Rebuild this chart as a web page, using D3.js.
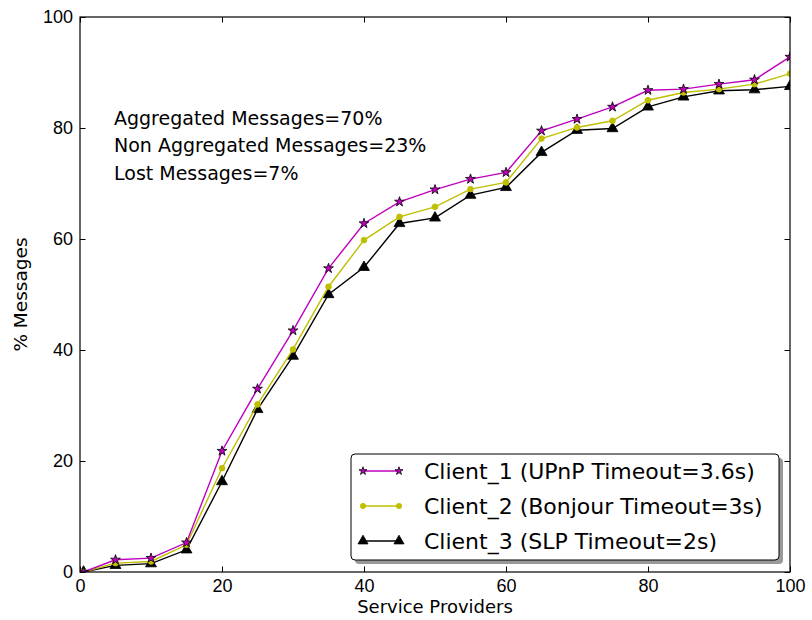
<!DOCTYPE html>
<html lang="en">
<head>
<meta charset="UTF-8">
<title>% Messages vs Service Providers</title>
<script src="https://d3js.org/d3.v7.min.js"></script>
<style>
    body { margin: 0; background: #fff; }
    svg { display: block; font-family: "DejaVu Sans", sans-serif; }
    .tick text { font-size: 18px; fill: #000; }
</style>
</head>
<body>
<script>
// providers on the x axis
const providers = [0.5, 5, 10, 15, 20, 25, 30, 35, 40, 45, 50, 55, 60, 65, 70, 75, 80, 85, 90, 95, 100];
const client1 = [0, 2.2, 2.5, 5.3, 21.8, 33, 43.5, 54.7, 62.8, 66.7, 68.9, 70.8, 72, 79.5, 81.6, 83.8, 86.8, 87, 87.9, 88.7, 92.8];
const client2 = [0, 1.6, 1.9, 4.9, 18.7, 30.2, 40.1, 51.4, 59.8, 64, 65.8, 69, 70.2, 78.1, 80.1, 81.3, 85, 86.4, 87, 87.9, 89.8];
const client3 = [0, 1.2, 1.5, 4, 16.3, 29.3, 38.9, 50, 54.9, 62.8, 63.8, 67.9, 69.3, 75.6, 79.6, 79.9, 83.8, 85.6, 86.7, 86.9, 87.5];
const seriesNames = ["Client_1 (UPnP Timeout=3.6s)", "Client_2 (Bonjour Timeout=3s)", "Client_3 (SLP Timeout=2s)"];
const notes = ["Aggregated Messages=70%", "Non Aggregated Messages=23%", "Lost Messages=7%"];
const xTicks = [0, 20, 40, 60, 80, 100];
const yTicks = [0, 20, 40, 60, 80, 100];

const W = 812, H = 620;
const margin = {top: 17, right: 22, bottom: 48, left: 80};
const width = W - margin.left - margin.right;
const height = H - margin.top - margin.bottom;

const svg = d3.select("body").append("svg")
    .attr("width", W).attr("height", H);

const g = svg.append("g")
    .attr("transform", `translate(${margin.left},${margin.top})`);

const x = d3.scaleLinear().domain([0, 100]).range([0, width]);
const y = d3.scaleLinear().domain([0, 100]).range([height, 0]);

g.append("clipPath").attr("id", "clip")
    .append("rect").attr("width", width).attr("height", height);

// axes with inward ticks on all four sides
const tl = 5.5;
g.append("g").attr("transform", `translate(0,${height})`)
    .call(d3.axisBottom(x).tickValues(xTicks).tickSizeInner(-tl).tickSizeOuter(0).tickPadding(7))
    .call(a => a.select(".domain").remove());
g.append("g")
    .call(d3.axisTop(x).tickValues(xTicks).tickSizeInner(-tl).tickSizeOuter(0).tickFormat(""))
    .call(a => a.select(".domain").remove());
g.append("g")
    .call(d3.axisLeft(y).tickValues(yTicks).tickSizeInner(-tl).tickSizeOuter(0).tickPadding(7))
    .call(a => a.select(".domain").remove());
g.append("g").attr("transform", `translate(${width},0)`)
    .call(d3.axisRight(y).tickValues(yTicks).tickSizeInner(-tl).tickSizeOuter(0).tickFormat(""))
    .call(a => a.select(".domain").remove());
g.selectAll(".tick line").attr("stroke", "#000").attr("stroke-width", 1);

const series = [
    {name: seriesNames[0], values: client1, color: "#bf00bf", symbol: d3.symbolStar, size: 30, legSize: 20, fill: "#bf00bf", stroke: "#000"},
    {name: seriesNames[1], values: client2, color: "#bfbf00", symbol: d3.symbolCircle, size: 26, legSize: 22, fill: "#bfbf00", stroke: "#bfbf00"},
    {name: seriesNames[2], values: client3, color: "#000000", symbol: d3.symbolTriangle, size: 52, legSize: 44, fill: "#000", stroke: "#000"}
];

const line = d3.line().x((d, i) => x(providers[i])).y(d => y(d));
const plot = g.append("g").attr("clip-path", "url(#clip)");

series.slice().reverse().forEach(s => {
    plot.append("path").datum(s.values)
        .attr("fill", "none").attr("stroke", s.color).attr("stroke-width", 1.4)
        .attr("d", line);
    plot.selectAll(null).data(s.values).join("path")
        .attr("transform", (d, i) => `translate(${x(providers[i])},${y(d)})`)
        .attr("d", d3.symbol(s.symbol, s.size))
        .attr("fill", s.fill).attr("stroke", s.stroke).attr("stroke-width", 0.8);
});

// frame
g.append("rect").attr("width", width).attr("height", height)
    .attr("fill", "none").attr("stroke", "#000").attr("stroke-width", 1.2);

// annotation
notes.forEach((t, i) => {
    g.append("text").attr("x", 114 - margin.left).attr("y", 124.5 - margin.top + i * 27.5)
        .attr("font-size", 19).text(t);
});

// axis labels
svg.append("text").attr("x", margin.left + width / 2).attr("y", 613)
    .attr("text-anchor", "middle").attr("font-size", 18).text("Service Providers");
svg.append("text").attr("transform", `translate(27,${margin.top + height / 2}) rotate(-90)`)
    .attr("text-anchor", "middle").attr("font-size", 18.5).text("% Messages");

// legend
const lg = svg.append("g").attr("transform", "translate(351,454)");
const lw = 428, lh = 106;
lg.append("rect").attr("x", 4).attr("y", 4).attr("width", lw).attr("height", lh)
    .attr("rx", 4).attr("fill", "#999");
lg.append("rect").attr("width", lw).attr("height", lh)
    .attr("rx", 4).attr("fill", "#fff").attr("stroke", "#000").attr("stroke-width", 1);
series.forEach((s, i) => {
    const ry = 17 + i * 35;
    lg.append("line").attr("x1", 12).attr("x2", 48).attr("y1", ry).attr("y2", ry)
        .attr("stroke", s.color).attr("stroke-width", 1.4);
    [12, 48].forEach(px => {
        lg.append("path").attr("transform", `translate(${px},${ry})`)
            .attr("d", d3.symbol(s.symbol, s.legSize))
            .attr("fill", s.fill).attr("stroke", s.stroke).attr("stroke-width", 0.8);
    });
    lg.append("text").attr("x", 73).attr("y", ry + 8).attr("font-size", 22).text(s.name);
});
</script>
</body>
</html>
